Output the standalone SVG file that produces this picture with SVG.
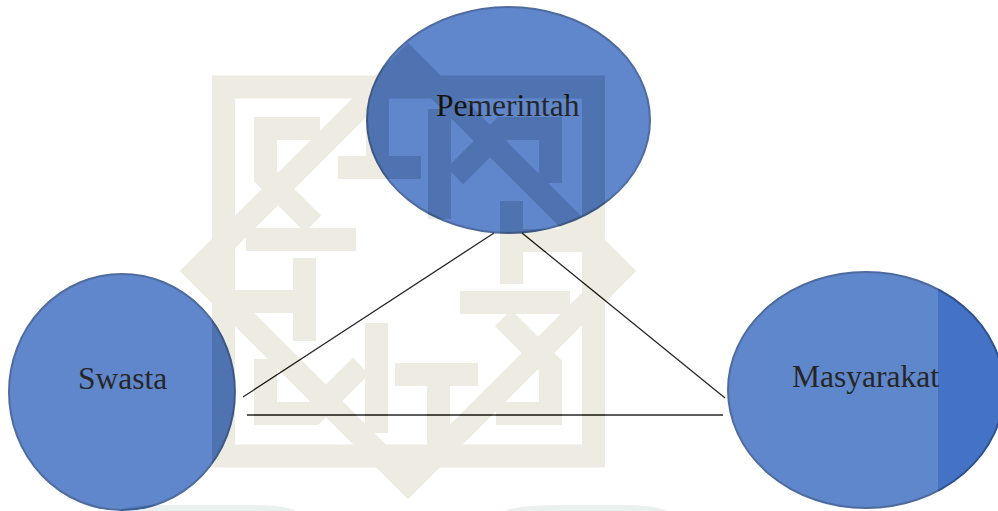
<svg xmlns="http://www.w3.org/2000/svg" xmlns:xlink="http://www.w3.org/1999/xlink" width="998" height="511" viewBox="0 0 998 511">
  <style>
    .node { fill: #4472C4; stroke: #2F528F; stroke-width: 2; }
    .label { font-family: "Liberation Serif", "Times New Roman", serif; font-size: 31.5px; fill: #000000; }
    .link { stroke: #000; stroke-width: 1.3; fill: none; }
    .band { fill: none; stroke: #8d7f45; stroke-width: 23; stroke-linejoin: miter; stroke-linecap: butt; }
    .letter { fill: #3c7a64; opacity: 0.7; }
  </style>
  <defs>
    <!-- one quarter of the interlaced pinwheel, repeated by rotation -->
    <g id="quarter">
      <path class="band" d="M95 47 L142.5 94.5 L142.5 142.5 L88 142.5"/>
      <path class="band" d="M52 31.5 L162 31.5"/>
      <path class="band" d="M-13 103.5 L70 103.5"/>
      <path class="band" d="M30.5 115 L30.5 185"/>
    </g>
  </defs>

  <rect width="998" height="511" fill="#ffffff"/>

  <g id="node-pemerintah">
    <ellipse class="node" cx="508.5" cy="120" rx="141.5" ry="113"/>
    <text class="label" x="436" y="116">Pemerintah</text>
  </g>

  <g id="node-swasta">
    <ellipse class="node" cx="122" cy="392" rx="113" ry="118"/>
    <text class="label" x="78" y="389">Swasta</text>
  </g>

  <g id="node-masyarakat">
    <ellipse class="node" cx="866" cy="390" rx="138" ry="118"/>
    <text class="label" x="792" y="387">Masyarakat</text>
  </g>

  <g id="connectors">
    <line class="link" x1="494" y1="233" x2="243" y2="397"/>
    <line class="link" x1="522" y1="233" x2="725" y2="398"/>
    <line class="link" x1="247" y1="415" x2="723" y2="415"/>
  </g>

  <!-- faint background emblem laid over the page -->
  <g id="emblem" opacity="0.15">
    <rect x="0" y="0" width="938" height="511" fill="#ffffff"/>
    <rect class="band" x="223.5" y="87" width="370" height="369"/>
    <polygon class="band" points="408,59 620,271 408,483 196,271"/>
    <g transform="translate(408 271)">
      <use xlink:href="#quarter"/>
      <use xlink:href="#quarter" transform="rotate(90)"/>
      <use xlink:href="#quarter" transform="rotate(180)"/>
      <use xlink:href="#quarter" transform="rotate(270)"/>
    </g>
    <path class="letter" d="M118 511 Q128 505 165 505 L258 505 Q288 506 296 511 Z"/>
    <path class="letter" d="M505 511 Q518 505 560 505 L628 505 Q658 506 668 511 Z"/>
  </g>
</svg>
